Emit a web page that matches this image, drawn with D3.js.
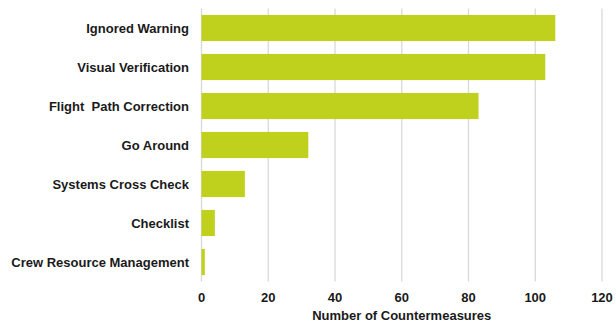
<!DOCTYPE html>
<html><head><meta charset="utf-8">
<script src="https://cdn.jsdelivr.net/npm/d3@7"></script>
<style>body{margin:0;background:#fff}text{font-family:"Liberation Sans",Arial,sans-serif;font-weight:bold;fill:#1a1a1a}</style>
</head><body>
<svg id="c" width="616" height="322"></svg>
<script>
const categories = ["Ignored Warning","Visual Verification","Flight  Path Correction","Go Around","Systems Cross Check","Checklist","Crew Resource Management"];
const values = [106,103,83,32,13,4,1];
const ticks = [0,20,40,60,80,100,120];
const xTitle = "Number of Countermeasures";

(function(){
const svg = d3.select("#c");
const pL = 201.5, pR = 602, pT = 8.5, pB = 281.5;
const x = d3.scaleLinear().domain([0,120]).range([pL,pR]);
const y = d3.scaleBand().domain(categories).range([pT,pB]).paddingInner(0.33).paddingOuter(0.165);

svg.append("g").selectAll("line").data(ticks).join("line")
  .attr("x1",d=>x(d)).attr("x2",d=>x(d)).attr("y1",pT).attr("y2",pB)
  .attr("stroke","#d9d9d9").attr("stroke-width",1.3);

svg.append("g").selectAll("rect").data(values).join("rect")
  .attr("x",x(0)).attr("y",(d,i)=>y(categories[i]))
  .attr("width",d=>x(d)-x(0)).attr("height",y.bandwidth())
  .attr("fill","#bfd01d");

svg.append("g").selectAll("text").data(categories).join("text")
  .attr("x",189).attr("y",d=>y(d)+y.bandwidth()/2).attr("dy","0.35em")
  .attr("text-anchor","end").attr("font-size",13).attr("xml:space","preserve").text(d=>d);

svg.append("g").selectAll("text").data(ticks).join("text")
  .attr("x",d=>x(d)).attr("y",301.5).attr("text-anchor","middle")
  .attr("font-size",13).text(d=>d);

svg.append("text").attr("x",(pL+pR)/2).attr("y",320).attr("text-anchor","middle")
  .attr("font-size",13).text(xTitle);
})();
</script>
</body></html>
